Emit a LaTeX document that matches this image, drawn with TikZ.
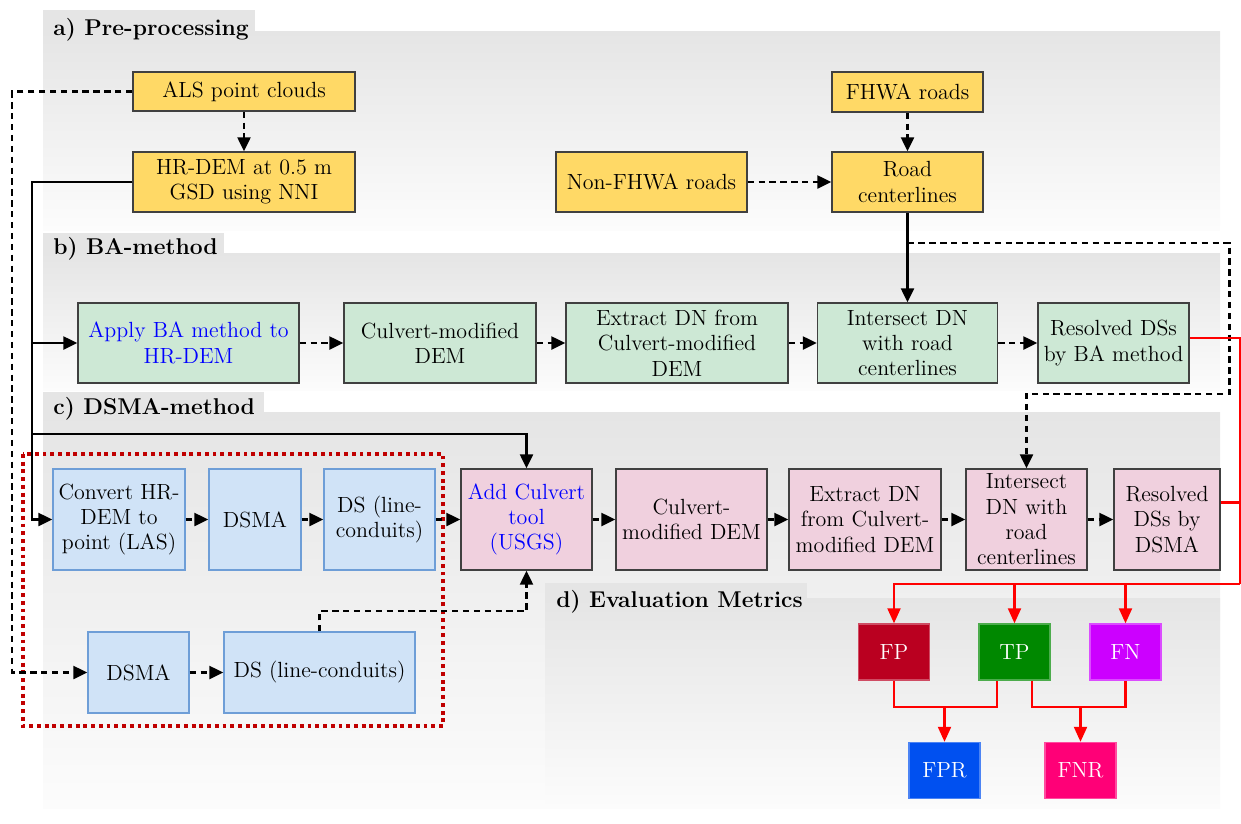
\documentclass[tikz,border=0pt]{standalone}
\usetikzlibrary{arrows.meta}

\definecolor{panelgray}{RGB}{229,229,229}
\definecolor{panelwhite}{RGB}{252,252,252}
\definecolor{boxline}{RGB}{64,64,64}
\definecolor{yelfill}{RGB}{255,217,102}
\definecolor{grnfill}{RGB}{205,232,213}
\definecolor{blufill}{RGB}{208,227,247}
\definecolor{bluline}{RGB}{110,158,215}
\definecolor{pnkfill}{RGB}{240,208,222}
\definecolor{txtblue}{RGB}{0,0,255}
\definecolor{linered}{RGB}{255,0,0}
\definecolor{dotred}{RGB}{192,0,0}
\definecolor{fpcol}{RGB}{186,0,32}
\definecolor{tpcol}{RGB}{0,136,0}
\definecolor{fncol}{RGB}{204,0,255}
\definecolor{fprcol}{RGB}{0,80,240}
\definecolor{fnrcol}{RGB}{255,0,119}

\begin{document}
\begin{tikzpicture}[x=0.02cm, y=-0.02cm,
    box/.style={draw=boxline, line width=0.8pt, align=center, inner sep=0.5pt, font=\fontsize{12.5}{14.4}\selectfont},
    yel/.style={box, fill=yelfill},
    grn/.style={box, fill=grnfill, minimum height=1.6cm},
    blu/.style={box, fill=blufill, draw=bluline},
    pnk/.style={box, fill=pnkfill, minimum height=2.02cm},
    met/.style={box, draw=#1!70!white, fill=#1, text=white, minimum width=1.42cm, minimum height=1.12cm},
    sec/.style={anchor=base west, inner sep=0pt, font=\fontsize{13}{15}\selectfont\bfseries},
    sol/.style={line width=1.3pt},
    dsh/.style={line width=1.3pt, dash pattern=on 3.6pt off 2.6pt},
    arr/.style={-{Triangle[length=0.28cm, width=0.26cm]}},
    redl/.style={line width=1.2pt, draw=linered},
    rarr/.style={-{Triangle[length=0.3cm, width=0.26cm]}},
  ]
  \useasboundingbox (0,0) rectangle (1241,823);

  % Panels with their tabs
  \fill[panelgray] (43,10) rectangle (255,31);
  \shade[top color=panelgray, bottom color=panelwhite] (43,31) rectangle (1220,230);
  \fill[panelgray] (43,233) rectangle (224,253);
  \shade[top color=panelgray, bottom color=panelwhite] (43,253) rectangle (1220,390);
  \fill[panelgray] (43,392) rectangle (264,412);
  \shade[top color=panelgray, bottom color=panelwhite] (43,412) rectangle (1220,808);
  \fill[panelgray] (545,583) rectangle (807,598);
  \shade[top color=panelgray, bottom color=panelwhite] (545,598) rectangle (1220,808);

  \node[sec] (seca) at (53,35) {a) Pre-processing};
  \node[sec] (secb) at (53,254) {b) BA-method};
  \node[sec] (secc) at (53,414) {c) DSMA-method};
  \node[sec] (secd) at (556,607) {d) Evaluation Metrics};

  % DSMA part
  \draw[dotred, line width=2.2pt, dash pattern=on 2.2pt off 2.2pt] (23,454) rectangle (443,726);

  % a) Pre-processing
  \node[yel, minimum width=4.44cm, minimum height=0.78cm] (als) at (244,91.5) {ALS point clouds};
  \node[yel, minimum width=4.44cm, minimum height=1.2cm] (hrdem) at (244,182) {HR-DEM at 0.5 m\\GSD using NNI};
  \node[yel, minimum width=3.02cm, minimum height=0.8cm] (fhwa) at (907.5,92) {FHWA roads};
  \node[yel, minimum width=3.82cm, minimum height=1.2cm] (nonf) at (651.5,182) {Non-FHWA roads};
  \node[yel, minimum width=3.02cm, minimum height=1.2cm] (road) at (907.5,182) {Road\\centerlines};

  % b) BA-method
  \node[grn, minimum width=4.42cm, text=txtblue] (ba1) at (188.5,343) {Apply BA method to\\HR-DEM};
  \node[grn, minimum width=3.84cm] (ba2) at (440,343) {Culvert-modified\\DEM};
  \node[grn, minimum width=4.44cm] (ba3) at (677,343) {Extract DN from\\Culvert-modified\\DEM};
  \node[grn, minimum width=3.6cm] (ba4) at (907.5,343) {Intersect DN\\with road\\centerlines};
  \node[grn, minimum width=3.02cm] (ba5) at (1113.5,343) {Resolved DSs\\by BA method};

  % c) DSMA-method
  \node[blu, minimum width=2.64cm, minimum height=2.02cm] (cv) at (119,519.5) {Convert HR-\\DEM to\\point (LAS)};
  \node[blu, minimum width=1.84cm, minimum height=2.02cm] (ds1) at (255,519.5) {DSMA};
  \node[blu, minimum width=2.22cm, minimum height=2.02cm] (dl1) at (379.5,519.5) {DS (line-\\conduits)};
  \node[pnk, minimum width=2.62cm, text=txtblue] (add) at (526.5,519.5) {Add Culvert\\tool\\(USGS)};
  \node[pnk, minimum width=3.02cm] (cm) at (691.5,519.5) {Culvert-\\modified DEM};
  \node[pnk, minimum width=3.04cm] (ex) at (865,519.5) {Extract DN\\from Culvert-\\modified DEM};
  \node[pnk, minimum width=2.42cm] (ic) at (1026.5,519.5) {Intersect\\DN with\\road\\centerlines};
  \node[pnk, minimum width=2.12cm] (rd) at (1167,519.5) {Resolved\\DSs by\\DSMA};
  \node[blu, minimum width=2.02cm, minimum height=1.62cm] (ds2) at (138.5,672.5) {DSMA};
  \node[blu, minimum width=3.82cm, minimum height=1.62cm] (dl2) at (319.5,672.5) {DS (line-conduits)};

  % d) Evaluation Metrics
  \node[met=fpcol] (fp) at (894,652) {FP};
  \node[met=tpcol] (tp) at (1014.5,652) {TP};
  \node[met=fncol] (fn) at (1125.5,652) {FN};
  \node[met=fprcol] (fpr) at (944.5,770.5) {FPR};
  \node[met=fnrcol] (fnr) at (1080.5,770.5) {FNR};

  % Pre-processing links
  \draw[dsh, arr] (als.south) -- (hrdem.north);
  \draw[dsh, arr] (fhwa.south) -- (road.north);
  \draw[dsh, arr] (nonf.east) -- (road.west);
  \draw[dsh, arr] (als.west) -- ++(-120,0) |- (ds2.west);
  \draw[sol, arr] (hrdem.west) -- ++(-100,0) |- (ba1.west);
  \draw[sol, arr] (hrdem.west) -- ++(-100,0) |- (cv.west);
  \draw[sol, arr] (hrdem.west) -- ++(-100,0) -- ++(0,252) -| (add.north);
  \draw[sol, arr] (road.south) -- (ba4.north);
  \draw[dsh, arr] (road.south) ++(0,30) -| ++(322,151) -| (ic.north);

  % Chains of steps
  \foreach \a/\b in {ba1/ba2, ba2/ba3, ba3/ba4, ba4/ba5, cv/ds1, ds1/dl1, dl1/add, add/cm, cm/ex, ex/ic, ic/rd, ds2/dl2}
    \draw[dsh, arr] (\a) -- (\b);
  \draw[dsh, arr] (dl2.north) -- ++(0,-20) -| (add.south);

  % Results to metrics
  \coordinate (rj) at (1240,584);
  \coordinate (mj) at (0,707);
  \coordinate (bae) at ([yshift=0.1cm]ba5.east);
  \coordinate (rde) at ([yshift=0.34cm]rd.east);
  \draw[redl] (bae) -| (rj);
  \draw[redl] (rde) -- (rde -| rj);
  \draw[redl, rarr] (rj) -| (fp.north);
  \draw[redl, rarr] (rj -| tp.north) -- (tp.north);
  \draw[redl, rarr] (rj -| fn.north) -- (fn.north);
  \draw[redl] (fp.south) |- ([xshift=-0.35cm]mj -| tp.south) -- ([xshift=-0.35cm]tp.south);
  \draw[redl] ([xshift=0.35cm]tp.south) |- (mj -| fn.south) -- (fn.south);
  \draw[redl, rarr] (mj -| fpr.north) -- (fpr.north);
  \draw[redl, rarr] (mj -| fnr.north) -- (fnr.north);
\end{tikzpicture}
\end{document}
